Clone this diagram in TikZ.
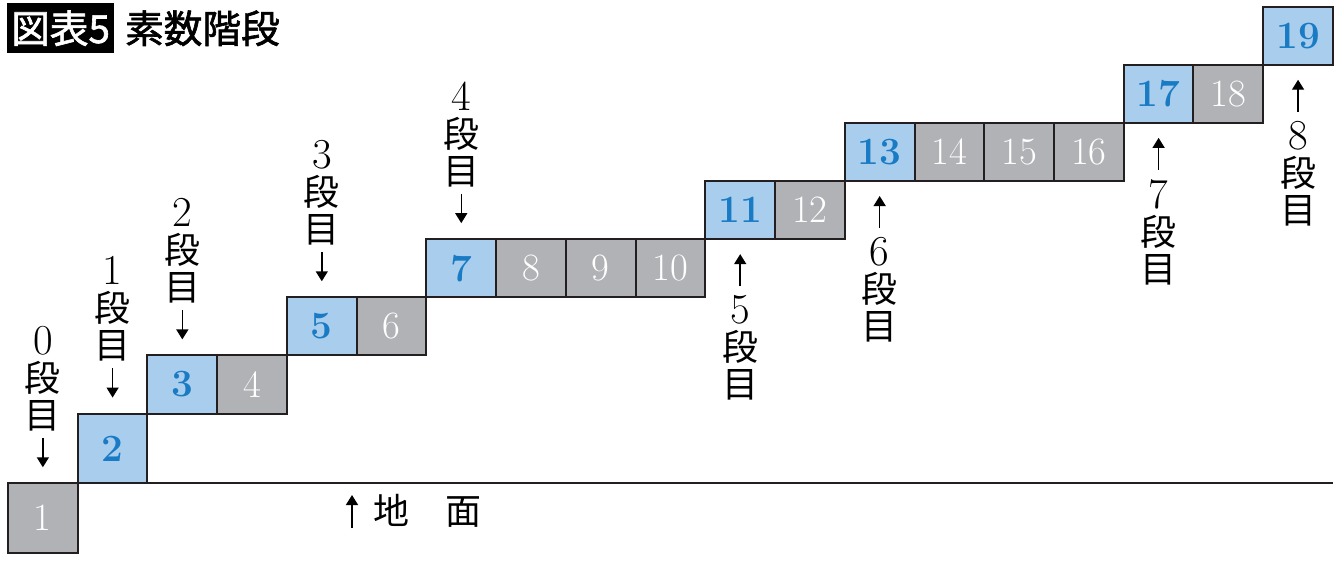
\documentclass[tikz,border=0pt]{standalone}
\usepackage{fontspec}
\usepackage{tikz}
\usetikzlibrary{arrows.meta, positioning}
\newfontfamily\cjk{Noto Sans CJK JP}
\newfontfamily\cjkhead{Noto Sans CJK JP}[FakeBold=1.6]
\definecolor{primefill}{HTML}{A9CDEC}
\definecolor{primetext}{HTML}{1A7BC5}
\definecolor{otherfill}{HTML}{B1B2B5}
\definecolor{edge}{HTML}{231F20}
\tikzstyle{stairarrow} = [line width=1.1pt, -{Triangle[width=9pt,length=7.5pt]}]
\newcommand\stepname[1]{{\rmfamily\fontsize{32pt}{32pt}\selectfont #1}\\\cjk 段\\\cjk 目}

\begin{document}
\begin{tikzpicture}[
		x=0.75pt, y=-0.75pt,
		stairbox/.style={rectangle, draw=edge, line width=1.5pt, minimum width=52.3pt, minimum height=43.6pt, inner sep=0pt, outer sep=0pt},
		prime/.style={stairbox, fill=primefill, text=primetext, font=\fontsize{29pt}{29pt}\selectfont\bfseries},
		other/.style={stairbox, fill=otherfill, text=white, font=\fontsize{29pt}{29pt}\selectfont},
		tall/.style={minimum height=52.3pt},
		steplabel/.style={align=center, inner sep=0pt, font=\cjk\fontsize{27pt}{27.75pt}\selectfont},
		node distance=0pt
		]
		\useasboundingbox (0,0) rectangle (1340,561);
		% Title
		\node[fill=black, text=white, font=\cjkhead\fontsize{29pt}{29pt}\selectfont, minimum width=80pt, minimum height=37.5pt, inner sep=0pt, anchor=north west] (figtag) at (7,3) {図表5};
		\node[inner sep=0pt, font=\cjkhead\fontsize{29pt}{29pt}\selectfont] (figtitle) [right=8pt of figtag] {素数階段};
		% Stairs
		\node[other, tall, anchor=south west] (b1) at (8,553) {1};
		\node[prime, tall] (b2) [above right=0pt of b1] {2};
		\node[prime] (b3) [above right=0pt of b2] {3};
		\node[other] (b4) [right=0pt of b3] {4};
		\node[prime] (b5) [above right=0pt of b4] {5};
		\node[other] (b6) [right=0pt of b5] {6};
		\node[prime] (b7) [above right=0pt of b6] {7};
		\node[other] (b8) [right=0pt of b7] {8};
		\node[other] (b9) [right=0pt of b8] {9};
		\node[other] (b10) [right=0pt of b9] {10};
		\node[prime] (b11) [above right=0pt of b10] {11};
		\node[other] (b12) [right=0pt of b11] {12};
		\node[prime] (b13) [above right=0pt of b12] {13};
		\node[other] (b14) [right=0pt of b13] {14};
		\node[other] (b15) [right=0pt of b14] {15};
		\node[other] (b16) [right=0pt of b15] {16};
		\node[prime] (b17) [above right=0pt of b16] {17};
		\node[other] (b18) [right=0pt of b17] {18};
		\node[prime] (b19) [above right=0pt of b18] {19};
		% Ground
		\draw[draw=edge, line width=1.5pt] (b2.south east) -- (b2.south east -| b19.east);
		\node[inner sep=0pt, font=\cjk\fontsize{27pt}{27pt}\selectfont] (ground) at (427,511) {地　面};
		\coordinate (groundfoot) at (352,528);
		\coordinate (groundtip) at (352,495);
		\draw[stairarrow] (groundfoot) -- (groundtip);
		% Steps 0 to 4, above the stairs
		\node[steplabel] (s0) [above=39pt of b1] {\stepname{0}};
		\node[steplabel] (s1) [above=39pt of b2] {\stepname{1}};
		\node[steplabel] (s2) [above=39pt of b3] {\stepname{2}};
		\node[steplabel] (s3) [above=39pt of b5] {\stepname{3}};
		\node[steplabel] (s4) [above=39pt of b7] {\stepname{4}};
		\draw[stairarrow, shorten <=5pt, shorten >=12pt] (s0) -- (b1);
		\draw[stairarrow, shorten <=5pt, shorten >=12pt] (s1) -- (b2);
		\draw[stairarrow, shorten <=5pt, shorten >=12pt] (s2) -- (b3);
		\draw[stairarrow, shorten <=5pt, shorten >=12pt] (s3) -- (b5);
		\draw[stairarrow, shorten <=5pt, shorten >=12pt] (s4) -- (b7);
		% Steps 5 to 8, below the stairs
		\node[steplabel] (s5) [below=42pt of b11] {\stepname{5}};
		\node[steplabel] (s6) [below=42pt of b13] {\stepname{6}};
		\node[steplabel] (s7) [below=42pt of b17] {\stepname{7}};
		\node[steplabel] (s8) [below=42pt of b19] {\stepname{8}};
		\draw[stairarrow, shorten <=6.75pt, shorten >=11.25pt] (s5) -- (b11);
		\draw[stairarrow, shorten <=6.75pt, shorten >=11.25pt] (s6) -- (b13);
		\draw[stairarrow, shorten <=6.75pt, shorten >=11.25pt] (s7) -- (b17);
		\draw[stairarrow, shorten <=6.75pt, shorten >=11.25pt] (s8) -- (b19);
	\end{tikzpicture}
\end{document}
